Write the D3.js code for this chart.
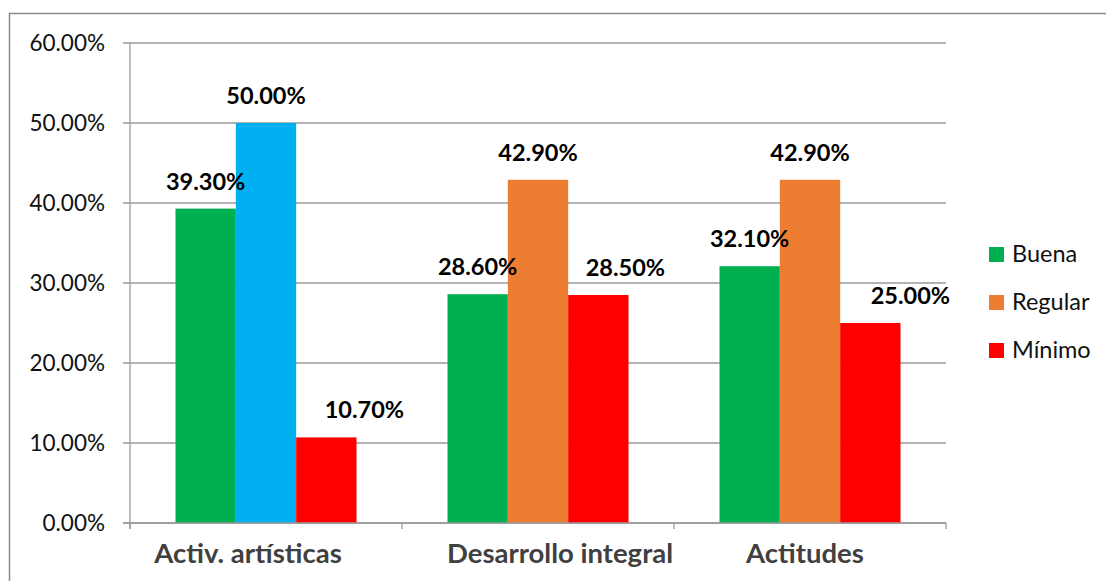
<!DOCTYPE html>
<html>
<head>
<meta charset="utf-8">
<script src="https://cdn.jsdelivr.net/npm/d3@7"></script>
<style>
  body { margin: 0; background: #fff; }
  svg { display: block; font-family: Lato, 'Open Sans', sans-serif; }
</style>
</head>
<body>
<svg width="1106" height="581"></svg>
<script>
// categories and series
const categories = ['Activ. artísticas', 'Desarrollo integral', 'Actitudes'];
const seriesNames = ['Buena', 'Regular', 'Mínimo'];
const buena = [39.3, 28.6, 32.1];
const regular = [50.0, 42.9, 42.9];
const minimo = [10.7, 28.5, 25.0];
const yTicks = [0, 10, 20, 30, 40, 50, 60];

const seriesColors = ['#00B050', '#ED7D31', '#FF0000'];
// the first "Regular" bar is drawn in a different colour in the original
const pointColor = { 'Regular|Activ. artísticas': '#00B0F0' };
// manual nudges of some labels (x shift, px), as in the original
const labelShift = { 'Mínimo|Activ. artísticas': 38, 'Mínimo|Desarrollo integral': 27, 'Mínimo|Actitudes': 40 };
const catLabelShift = [-18, 22, -5];

const values = [buena, regular, minimo];

var svg = d3.select('svg');

// outer chart border
svg.append('rect')
  .attr('x', 9.5).attr('y', 13.5)
  .attr('width', 1120).attr('height', 600)
  .attr('fill', 'none')
  .attr('stroke', '#8c8c8c')
  .attr('stroke-width', 1.5);

var plotLeft = 130, plotRight = 946, plotTop = 43, plotBottom = 523;

var x0 = d3.scaleBand().domain(categories).range([plotLeft, plotRight]).padding(0);
var x1 = d3.scaleBand().domain(seriesNames).range([0, x0.bandwidth()])
  .paddingInner(0).paddingOuter(0.754);
var y = d3.scaleLinear().domain([0, 60]).range([plotBottom, plotTop]);

// gridlines and y ticks
var grid = svg.append('g');
grid.selectAll('line')
  .data(yTicks)
  .enter()
  .append('line')
  .attr('x1', plotLeft - 7)
  .attr('x2', plotRight)
  .attr('y1', function (d) { return y(d); })
  .attr('y2', function (d) { return y(d); })
  .attr('stroke', '#9a9a9a')
  .attr('stroke-width', 1.3);

svg.append('g').selectAll('text')
  .data(yTicks)
  .enter()
  .append('text')
  .attr('x', 105)
  .attr('y', function (d) { return y(d) + 8; })
  .attr('text-anchor', 'end')
  .attr('font-size', 22.5)
  .attr('fill', '#111')
  .text(function (d) { return d.toFixed(2) + '%'; });

// bars
var groups = svg.append('g')
  .selectAll('g')
  .data(categories)
  .enter()
  .append('g')
  .attr('transform', function (d) { return 'translate(' + x0(d) + ',0)'; });

groups.selectAll('rect')
  .data(function (c, i) {
    return seriesNames.map(function (s, j) {
      return { cat: c, series: s, value: values[j][i], color: pointColor[s + '|' + c] || seriesColors[j] };
    });
  })
  .enter()
  .append('rect')
  .attr('x', function (d) { return x1(d.series); })
  .attr('width', x1.bandwidth())
  .attr('y', function (d) { return y(d.value); })
  .attr('height', function (d) { return y(0) - y(d.value); })
  .attr('fill', function (d) { return d.color; });

// y axis line and x axis
svg.append('line')
  .attr('x1', plotLeft).attr('x2', plotLeft)
  .attr('y1', plotTop).attr('y2', plotBottom + 6)
  .attr('stroke', '#9a9a9a').attr('stroke-width', 1.3);

svg.append('g').selectAll('line')
  .data(categories.concat(['end']))
  .enter()
  .append('line')
  .attr('x1', function (d, i) { return plotLeft + i * x0.step(); })
  .attr('x2', function (d, i) { return plotLeft + i * x0.step(); })
  .attr('y1', plotBottom)
  .attr('y2', plotBottom + 6)
  .attr('stroke', '#9a9a9a').attr('stroke-width', 1.3);

svg.append('line')
  .attr('x1', plotLeft - 7).attr('x2', plotRight)
  .attr('y1', plotBottom).attr('y2', plotBottom)
  .attr('stroke', '#9a9a9a').attr('stroke-width', 1.3);

// data labels
groups.selectAll('text')
  .data(function (c, i) {
    return seriesNames.map(function (s, j) {
      return { cat: c, series: s, value: values[j][i] };
    });
  })
  .enter()
  .append('text')
  .attr('x', function (d) {
    return x1(d.series) + x1.bandwidth() / 2 + (labelShift[d.series + '|' + d.cat] || 0);
  })
  .attr('y', function (d) { return y(d.value) - 19; })
  .attr('text-anchor', 'middle')
  .attr('font-size', 23.5)
  .attr('font-weight', 'bold')
  .attr('fill', '#000')
  .text(function (d) { return d.value.toFixed(2) + '%'; });

// category labels
svg.append('g').selectAll('text')
  .data(categories)
  .enter()
  .append('text')
  .attr('x', function (d, i) { return x0(d) + x0.bandwidth() / 2 + catLabelShift[i]; })
  .attr('y', 563)
  .attr('text-anchor', 'middle')
  .attr('font-size', 27.5)
  .attr('font-weight', 'bold')
  .attr('fill', '#404040')
  .text(function (d) { return d; });

// legend
var legend = svg.append('g')
  .selectAll('g')
  .data(seriesNames)
  .enter()
  .append('g')
  .attr('transform', function (d, i) { return 'translate(989,' + (247 + i * 48) + ')'; });

legend.append('rect')
  .attr('width', 15).attr('height', 15)
  .attr('fill', function (d, i) { return seriesColors[i]; });

legend.append('text')
  .attr('x', 23)
  .attr('y', 15)
  .attr('font-size', 23.5)
  .attr('fill', '#111')
  .text(function (d) { return d; });
</script>
</body>
</html>
